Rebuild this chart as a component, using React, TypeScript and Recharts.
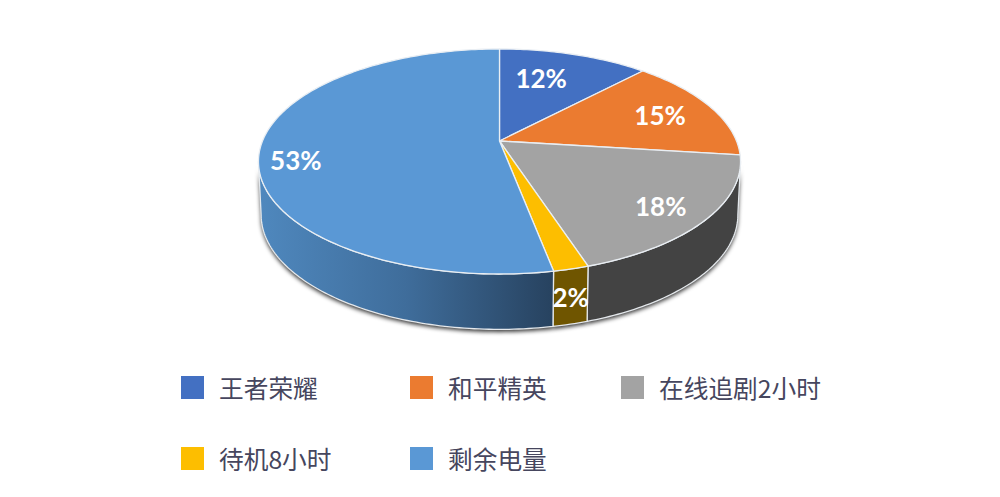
import React from "react";
import { PieChart, Pie, Legend } from "recharts";

const categories = ["王者荣耀", "和平精英", "在线追剧2小时", "待机8小时", "剩余电量"];
const values = [12, 15, 18, 2, 53];
const topColors = ["#4370C2", "#EB7B30", "#A3A3A3", "#FDBE00", "#5A98D5"];
const wallColors = ["#2F4F88", "#A45722", "#434343", "#6F5500", "url(#blueWall)"];
const labelRadius = [0.678, 0.75, 0.816, 1, 0.85];
const labelSpan = [0.39, 0.51, 0.525, 0.5, 0.468];

const data = categories.map((name, i) => ({
  name,
  value: values[i],
  fill: topColors[i],
  wall: wallColors[i],
  labelRadius: labelRadius[i],
  labelSpan: labelSpan[i],
}));

// Perspective projection of the flat pie onto the picture plane.
const TILT = 0.459;
const PERSPECTIVE = 0.182;
const DEPTH = 53;
const BOTTOM_X = 0.989;
const BOTTOM_Y = 1.018;
const rad = Math.PI / 180;
const SIDE = Math.acos(-PERSPECTIVE) / rad;

const toClock = (a: number) => 90 - a;

function rim(cx: number, cy: number, R: number, theta: number, r = 1) {
  const s = Math.sin(theta * rad) * r;
  const c = Math.cos(theta * rad) * r;
  const w = 1 + PERSPECTIVE * c;
  return { x: cx + (R * s) / w, y: cy - (R * TILT * c) / w };
}

function rimBottom(cx: number, cy: number, R: number, theta: number) {
  const s = Math.sin(theta * rad);
  const c = Math.cos(theta * rad);
  const w = 1 + PERSPECTIVE * c;
  return {
    x: cx + (R * BOTTOM_X * s) / w,
    y: cy + DEPTH - (R * TILT * BOTTOM_Y * c) / w,
  };
}

function arcPoints(from: number, to: number, f: (t: number) => { x: number; y: number }) {
  const pts = [];
  const n = Math.max(2, Math.ceil(Math.abs(to - from)));
  for (let i = 0; i <= n; i++) pts.push(f(from + ((to - from) * i) / n));
  return pts;
}

const toPath = (pts: { x: number; y: number }[]) =>
  pts.map((p, i) => `${i ? "L" : "M"}${p.x.toFixed(2)},${p.y.toFixed(2)}`).join(" ");

function wallPath(p: any) {
  const a = Math.max(toClock(p.startAngle), SIDE);
  const b = Math.min(toClock(p.endAngle), 360 - SIDE);
  if (b <= a) return null;
  const top = arcPoints(a, b, (t) => rim(p.cx, p.cy, p.outerRadius, t));
  const bottom = arcPoints(b, a, (t) => rimBottom(p.cx, p.cy, p.outerRadius, t));
  return toPath([...top, ...bottom]) + " Z";
}

const TopShape = (p: any) => {
  const pts = arcPoints(toClock(p.startAngle), toClock(p.endAngle), (t) =>
    rim(p.cx, p.cy, p.outerRadius, t)
  );
  const d = `M${p.cx},${p.cy} ` + toPath(pts).replace(/^M/, "L") + " Z";
  return <path d={d} fill={p.fill} stroke="#E9EEF3" strokeWidth={1.3} strokeLinejoin="round" />;
};

const WallShape = (p: any) => {
  const d = wallPath(p);
  if (!d) return <g />;
  return <path d={d} fill={p.payload?.wall ?? p.wall} stroke="#E4E8EC" strokeWidth={1.3} strokeLinejoin="round" />;
};

const ShadowShape = (p: any) => {
  const d = wallPath(p);
  if (!d) return <g />;
  return <path d={d} fill="#000" fillOpacity={0.8} transform="translate(0,2.5)" filter="url(#wallShadow)" />;
};

const renderLabel = (p: any) => {
  const a = toClock(p.startAngle);
  const b = toClock(p.endAngle);
  const entry = p.payload ?? p;
  const theta = a + (b - a) * entry.labelSpan;
  let pos;
  if (p.value < 5) {
    const top = rim(p.cx, p.cy, p.outerRadius, theta);
    const bottom = rimBottom(p.cx, p.cy, p.outerRadius, theta);
    pos = { x: (top.x + bottom.x) / 2, y: (top.y + bottom.y) / 2 };
  } else {
    pos = rim(p.cx, p.cy, p.outerRadius, theta, entry.labelRadius);
  }
  return (
    <text
      x={pos.x}
      y={pos.y}
      fill="#FFFFFF"
      textAnchor="middle"
      dominantBaseline="central"
      style={{ fontFamily: "Lato, sans-serif", fontWeight: 700, fontSize: 26 }}
    >
      {`${p.value}%`}
    </text>
  );
};

const LegendBox = ({ payload }: any) => {
  const items = categories
    .map((c) => (payload ?? []).find((it: any) => it.value === c))
    .filter(Boolean);
  return (
    <div
      style={{
        display: "grid",
        gridTemplateColumns: "229px 211px 240px",
        gridAutoRows: "71px",
        fontFamily: "'Noto Sans CJK SC', sans-serif",
        fontSize: 24.7,
        color: "#46465E",
      }}
    >
      {items.map((item: any) => (
        <div key={item.value} style={{ display: "flex", alignItems: "flex-start", height: 71 }}>
          <span style={{ width: 23, height: 23, background: item.color, flex: "none" }} />
          <span style={{ marginLeft: 15, lineHeight: "23px", whiteSpace: "nowrap" }}>{item.value}</span>
        </div>
      ))}
    </div>
  );
};

const pieBase = {
  data,
  dataKey: "value",
  nameKey: "name",
  cx: 499.5,
  cy: 141,
  outerRadius: 237,
  startAngle: 90,
  endAngle: -270,
  isAnimationActive: false,
};

export default function App() {
  return (
    <div style={{ position: "absolute", left: 0, top: 0, width: 1000, height: 497, background: "#fff" }}>
      <PieChart width={1000} height={497} margin={{ top: 0, right: 0, bottom: 0, left: 0 }}>
        <defs>
          <linearGradient id="blueWall" x1="0" y1="0" x2="1" y2="0">
            <stop offset="0%" stopColor="#4F88BE" />
            <stop offset="50%" stopColor="#3F6D9B" />
            <stop offset="100%" stopColor="#27425F" />
          </linearGradient>
          <filter id="wallShadow" x="-10%" y="-10%" width="120%" height="130%">
            <feGaussianBlur stdDeviation="2.2" />
          </filter>
        </defs>
        <Pie {...pieBase} legendType="none" shape={ShadowShape} stroke="none" />
        <Pie {...pieBase} legendType="none" shape={WallShape} />
        <Pie {...pieBase} shape={TopShape} label={renderLabel} labelLine={false} />
        <Legend
          content={<LegendBox />}
          wrapperStyle={{ left: 181, top: 376, bottom: "auto", width: 680 }}
        />
      </PieChart>
    </div>
  );
}
